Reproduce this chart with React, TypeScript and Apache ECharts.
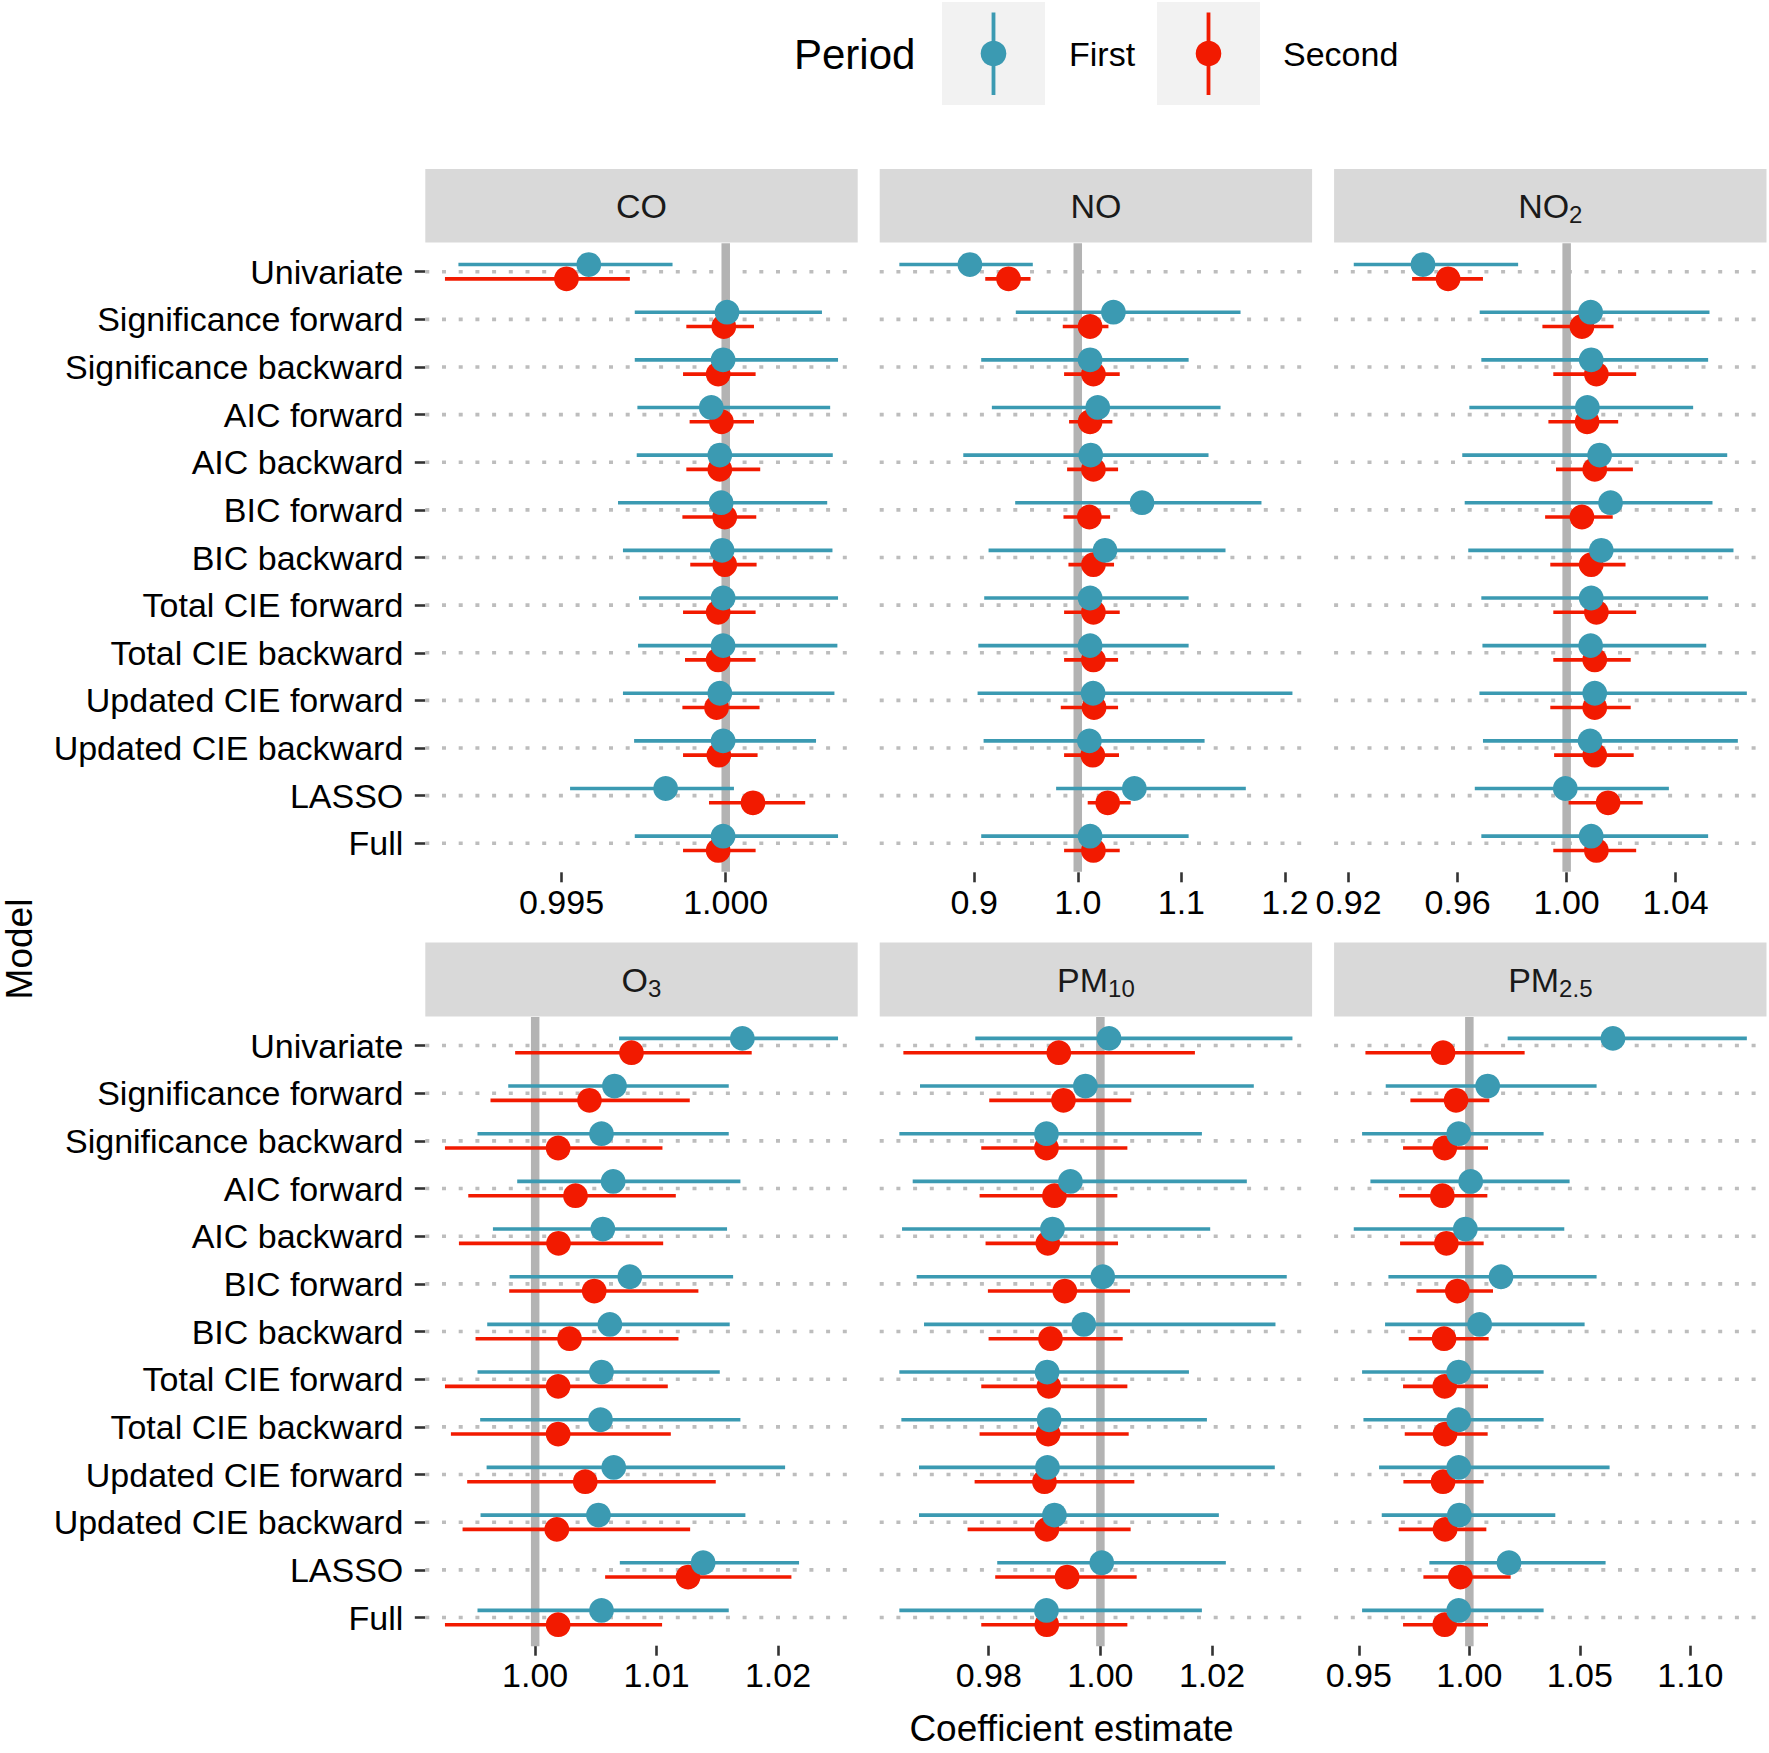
import React, { useEffect, useRef } from "react";
import * as echarts from "echarts";

// ---------------- data ----------------
const models = [
  "Univariate",
  "Significance forward",
  "Significance backward",
  "AIC forward",
  "AIC backward",
  "BIC forward",
  "BIC backward",
  "Total CIE forward",
  "Total CIE backward",
  "Updated CIE forward",
  "Updated CIE backward",
  "LASSO",
  "Full",
];

const periods = ["First", "Second"];

// each row: [lower, estimate, upper]
const coFirst = [
  [0.99186, 0.99583, 0.99838], [0.99723, 1.00004, 1.00293], [0.99723, 0.99992, 1.00342],
  [0.99731, 0.99956, 1.00318], [0.99729, 0.99982, 1.00326], [0.99672, 0.99986, 1.00309],
  [0.99687, 0.99989, 1.00325], [0.99736, 0.99992, 1.00342], [0.99733, 0.99992, 1.0034],
  [0.99687, 0.99982, 1.00331], [0.99721, 0.99992, 1.00275], [0.99526, 0.99817, 1.00025],
  [0.99723, 0.99992, 1.00342],
];
const coSecond = [
  [0.99145, 0.99515, 0.99708], [0.9988, 0.99994, 1.00086], [0.9987, 0.99977, 1.00091],
  [0.9989, 0.99987, 1.00086], [0.9988, 0.99982, 1.00105], [0.99868, 0.99997, 1.00093],
  [0.99892, 0.99997, 1.00094], [0.9987, 0.99977, 1.00091], [0.99876, 0.99977, 1.00091],
  [0.99868, 0.99972, 1.00103], [0.9987, 0.99979, 1.00097], [0.99949, 1.00083, 1.00242],
  [0.9987, 0.99977, 1.00091],
];
const noFirst = [
  [0.8278, 0.8959, 0.9566], [0.9402, 1.0344, 1.1571], [0.9068, 1.0119, 1.107],
  [0.9171, 1.0193, 1.1378], [0.8895, 1.0125, 1.1262], [0.9396, 1.062, 1.1773],
  [0.9139, 1.0263, 1.1426], [0.9097, 1.0119, 1.107], [0.904, 1.0119, 1.107],
  [0.9033, 1.0148, 1.2072], [0.9091, 1.0112, 1.1224], [0.9791, 1.0546, 1.1622],
  [0.9068, 1.0119, 1.107],
];
const noSecond = [
  [0.9107, 0.9332, 0.9544], [0.9855, 1.0119, 1.0296], [0.9868, 1.0151, 1.0405],
  [0.9916, 1.0119, 1.0334], [0.9897, 1.0151, 1.0389], [0.9862, 1.0112, 1.0312],
  [0.991, 1.0151, 1.035], [0.9868, 1.0151, 1.0405], [0.9868, 1.0151, 1.0389],
  [0.9836, 1.0157, 1.0389], [0.9868, 1.0145, 1.0398], [1.0096, 1.0289, 1.0511],
  [0.9868, 1.0151, 1.0405],
];
const no2First = [
  [0.9219, 0.9473, 0.9822], [0.9681, 1.0088, 1.0524], [0.9687, 1.009, 1.0519],
  [0.9643, 1.0076, 1.0464], [0.9617, 1.0121, 1.0589], [0.9626, 1.0161, 1.0535],
  [0.9639, 1.0127, 1.0612], [0.9687, 1.009, 1.0519], [0.9691, 1.0088, 1.0512],
  [0.968, 1.0103, 1.0661], [0.9693, 1.0086, 1.0628], [0.9663, 0.9995, 1.0375],
  [0.9687, 1.009, 1.0519],
];
const no2Second = [
  [0.9433, 0.9565, 0.9693], [0.9911, 1.0056, 1.0172], [0.9951, 1.0109, 1.0255],
  [0.9933, 1.0075, 1.0189], [0.9961, 1.0103, 1.0243], [0.9921, 1.0056, 1.0169],
  [0.994, 1.009, 1.0216], [0.9951, 1.0109, 1.0255], [0.9951, 1.0103, 1.0235],
  [0.994, 1.0103, 1.0235], [0.9954, 1.0103, 1.0246], [1.0007, 1.0152, 1.0279],
  [0.9951, 1.0109, 1.0255],
];
const o3First = [
  [1.00691, 1.01706, 1.02494], [0.99778, 1.00653, 1.01594], [0.99525, 1.00546, 1.01594],
  [0.99852, 1.00642, 1.0169], [0.99652, 1.00557, 1.0158], [0.99789, 1.00779, 1.0163],
  [0.99605, 1.00615, 1.01602], [0.99525, 1.00546, 1.0152], [0.99547, 1.00538, 1.0169],
  [0.996, 1.00647, 1.02058], [0.9955, 1.00521, 1.01731], [1.00697, 1.01383, 1.02173],
  [0.99525, 1.00546, 1.01594],
];
const o3Second = [
  [0.99835, 1.00793, 1.01783], [0.99632, 1.00447, 1.01273], [0.99257, 1.00189, 1.01048],
  [0.99449, 1.00332, 1.01158], [0.99372, 1.00192, 1.01054], [0.99786, 1.00486, 1.01344],
  [0.99509, 1.00283, 1.0118], [0.99257, 1.00189, 1.01092], [0.99306, 1.00189, 1.01117],
  [0.9944, 1.00412, 1.01487], [0.99402, 1.00178, 1.01276], [1.00576, 1.01259, 1.0211],
  [0.99257, 1.00189, 1.01045],
];
const pm10First = [
  [0.97759, 1.00155, 1.0344], [0.96769, 0.99732, 1.02748], [0.96399, 0.99034, 1.01818],
  [0.96638, 0.99463, 1.02623], [0.96447, 0.99142, 1.01967], [0.96709, 1.00042, 1.03338],
  [0.96841, 0.99702, 1.03136], [0.96399, 0.99046, 1.01586], [0.96435, 0.99082, 1.01908],
  [0.96751, 0.99052, 1.03124], [0.96751, 0.99177, 1.02122], [0.98152, 1.00024, 1.02247],
  [0.96399, 0.99034, 1.01818],
];
const pm10Second = [
  [0.96471, 0.99255, 1.01693], [0.98009, 0.99338, 1.00554], [0.97866, 0.99034, 1.00483],
  [0.97836, 0.99177, 1.00304], [0.97943, 0.99058, 1.00316], [0.97985, 0.99362, 1.00531],
  [0.97997, 0.99106, 1.004], [0.97866, 0.99076, 1.00483], [0.97836, 0.99064, 1.00507],
  [0.97747, 0.98998, 1.00608], [0.97621, 0.9904, 1.00542], [0.98116, 0.99404, 1.0065],
  [0.97866, 0.9904, 1.00483],
];
const pm25First = [
  [1.01733, 1.06497, 1.12557], [0.96216, 1.00829, 1.05758], [0.95146, 0.99518, 1.03361],
  [0.95523, 1.0006, 1.04537], [0.94769, 0.99819, 1.04296], [0.96337, 1.01432, 1.05758],
  [0.96186, 1.00467, 1.05216], [0.95146, 0.99518, 1.03361], [0.95207, 0.99518, 1.03361],
  [0.95915, 0.99518, 1.06346], [0.96036, 0.99548, 1.03889], [0.98191, 1.01794, 1.06165],
  [0.95146, 0.99518, 1.03361],
];
const pm25Second = [
  [0.95297, 0.98809, 1.02502], [0.97332, 0.99397, 1.00904], [0.97, 0.98885, 1.00844],
  [0.9682, 0.98779, 1.00814], [0.96865, 0.9896, 1.00648], [0.97603, 0.99457, 1.0107],
  [0.97257, 0.98854, 1.00874], [0.97, 0.98885, 1.00844], [0.97076, 0.989, 1.00829],
  [0.97015, 0.98809, 1.00648], [0.96804, 0.989, 1.00769], [0.9792, 0.99593, 1.01869],
  [0.97, 0.98885, 1.00844],
];

// tick labels per panel
const coTicks = [0.995, 1.0];
const noTicks = [0.9, 1.0, 1.1, 1.2];
const no2Ticks = [0.92, 0.96, 1.0, 1.04];
const o3Ticks = [1.0, 1.01, 1.02];
const pm10Ticks = [0.98, 1.0, 1.02];
const pm25Ticks = [0.95, 1.0, 1.05, 1.1];

const referenceValue = 1;

const panels = [
  { title: "CO", first: coFirst, second: coSecond, ticks: coTicks, dec: 3 },
  { title: "NO", first: noFirst, second: noSecond, ticks: noTicks, dec: 1 },
  { title: "NO{s|2}", first: no2First, second: no2Second, ticks: no2Ticks, dec: 2 },
  { title: "O{s|3}", first: o3First, second: o3Second, ticks: o3Ticks, dec: 2 },
  { title: "PM{s|10}", first: pm10First, second: pm10Second, ticks: pm10Ticks, dec: 2 },
  { title: "PM{s|2.5}", first: pm25First, second: pm25Second, ticks: pm25Ticks, dec: 2 },
];

// ---------------- styling / layout ----------------
const FONT = "'Liberation Sans', Arial, Helvetica, sans-serif";
const TEAL = "#3B9AB2";
const RED = "#F21A00";
const STRIP = "#D9D9D9";

const L = {
  lefts: [425.3, 879.7, 1334.1],
  width: 432.4,
  rowTop: [247.9, 1021.7],
  rowHeight: [619.2, 619.7],
  xOffset: [5.2, 4.3],
  stripTop: [169, 942.5],
  stripHeight: [73.5, 74],
};

function buildOption() {
  const grid: any[] = [];
  const xAxis: any[] = [];
  const yAxis: any[] = [];
  const series: any[] = [];
  const graphic: any[] = [];

  panels.forEach((p, k) => {
    const row = Math.floor(k / 3);
    const col = k % 3;
    const left = L.lefts[col];
    grid.push({
      left,
      top: L.rowTop[row],
      width: L.width,
      height: L.rowHeight[row],
      containLabel: false,
      outerBoundsMode: "none",
    });

    const all = [...p.first, ...p.second];
    const lo = Math.min(...all.map((r) => r[0]));
    const hi = Math.max(...all.map((r) => r[2]));
    const pad = (hi - lo) * 0.05;

    xAxis.push({
      gridIndex: k,
      type: "value",
      min: lo - pad,
      max: hi + pad,
      offset: L.xOffset[row],
      axisLine: { show: false },
      splitLine: { show: false },
      axisTick: {
        show: true,
        length: 10,
        customValues: p.ticks,
        lineStyle: { color: "#333333", width: 2.6 },
      },
      axisLabel: {
        show: true,
        customValues: p.ticks,
        formatter: (v: number) => Number(v).toFixed(p.dec),
        fontSize: 34,
        fontFamily: FONT,
        color: "#000",
        margin: 12.5,
        hideOverlap: false,
      },
    });

    yAxis.push({
      gridIndex: k,
      type: "category",
      data: models,
      inverse: true,
      axisLine: { show: false },
      splitLine: { show: false },
      axisTick: {
        show: col === 0,
        alignWithLabel: true,
        interval: 0,
        length: 10.5,
        lineStyle: { color: "#333333", width: 2.6 },
      },
      axisLabel: {
        show: col === 0,
        interval: 0,
        fontSize: 34,
        fontFamily: FONT,
        color: "#000",
        margin: 22,
      },
    });

    // dotted horizontal guide lines at each model
    series.push({
      type: "custom",
      xAxisIndex: k,
      yAxisIndex: k,
      silent: true,
      z: 1,
      clip: false,
      data: models.map((m, i) => [referenceValue, i]),
      encode: { x: 0, y: 1 },
      renderItem: (params: any, api: any) => {
        const pt = api.coord([api.value(0), api.value(1)]);
        const cs = params.coordSys;
        return {
          type: "line",
          shape: { x1: cs.x, y1: pt[1], x2: cs.x + cs.width, y2: pt[1] },
          style: { stroke: "#BDBDBD", lineWidth: 3.6, lineDash: [4, 12.7], lineCap: "butt" },
        };
      },
    });

    // reference line at 1
    series.push({
      type: "custom",
      xAxisIndex: k,
      yAxisIndex: k,
      silent: true,
      z: 2,
      clip: false,
      data: [[referenceValue, 0]],
      encode: { x: 0, y: 1 },
      renderItem: (params: any, api: any) => {
        const band = api.size([0, 1])[1];
        const a = api.coord([api.value(0), 0]);
        const b = api.coord([api.value(0), models.length - 1]);
        return {
          type: "line",
          shape: { x1: a[0], y1: a[1] - 0.6 * band, x2: a[0], y2: b[1] + 0.6 * band },
          style: { stroke: "#B3B3B3", lineWidth: 8.5, lineCap: "butt" },
        };
      },
    });

    const groups = [
      { name: periods[1], rows: p.second, color: RED, sign: 1 },
      { name: periods[0], rows: p.first, color: TEAL, sign: -1 },
    ];

    groups.forEach((g, gi) => {
      series.push({
        type: "custom",
        name: g.name,
        xAxisIndex: k,
        yAxisIndex: k,
        silent: true,
        z: 3 + gi,
        clip: false,
        data: g.rows.map((r, i) => [r[0], r[2], r[1], i]),
        encode: { x: [0, 1, 2], y: 3 },
        renderItem: (params: any, api: any) => {
          const i = api.value(3);
          const band = api.size([0, 1])[1];
          const dy = g.sign * 0.15 * band;
          const a = api.coord([api.value(0), i]);
          const b = api.coord([api.value(1), i]);
          return {
            type: "line",
            shape: { x1: a[0], y1: a[1] + dy, x2: b[0], y2: b[1] + dy },
            style: { stroke: g.color, lineWidth: 3.6, lineCap: "butt" },
          };
        },
      });
    });

    groups.forEach((g, gi) => {
      series.push({
        type: "custom",
        name: g.name,
        xAxisIndex: k,
        yAxisIndex: k,
        silent: true,
        z: 5 + gi,
        clip: false,
        data: g.rows.map((r, i) => [r[1], i]),
        encode: { x: 0, y: 1 },
        renderItem: (params: any, api: any) => {
          const band = api.size([0, 1])[1];
          const dy = g.sign * 0.15 * band;
          const c = api.coord([api.value(0), api.value(1)]);
          return {
            type: "circle",
            shape: { cx: c[0], cy: c[1] + dy, r: 12.4 },
            style: { fill: g.color },
          };
        },
      });
    });

    // strip
    graphic.push({
      type: "rect",
      silent: true,
      z: 0,
      shape: { x: left, y: L.stripTop[row], width: L.width, height: L.stripHeight[row] },
      style: { fill: STRIP },
    });
    graphic.push({
      type: "text",
      silent: true,
      z: 1,
      x: left + L.width / 2,
      y: L.stripTop[row] + L.stripHeight[row] / 2,
      style: {
        text: p.title,
        fontSize: 34,
        fontFamily: FONT,
        fill: "#1A1A1A",
        align: "center",
        verticalAlign: "middle",
        textAlign: "center",
        textVerticalAlign: "middle",
        rich: {
          s: { fontSize: 24, fontFamily: FONT, fill: "#1A1A1A", padding: [17, 0, 0, 0] },
        },
      },
    });
  });

  // legend (manual, ggplot style)
  const legendKeys = [
    { name: periods[0], color: TEAL, boxX: 942, textX: 1069 },
    { name: periods[1], color: RED, boxX: 1157, textX: 1283 },
  ];
  graphic.push({
    type: "text",
    silent: true,
    x: 794,
    y: 54,
    style: {
      text: "Period",
      fontSize: 42,
      fontFamily: FONT,
      fill: "#000",
      align: "left",
      verticalAlign: "middle",
      textAlign: "left",
      textVerticalAlign: "middle",
    },
  });
  legendKeys.forEach((lk) => {
    graphic.push({
      type: "rect",
      silent: true,
      shape: { x: lk.boxX, y: 2, width: 103, height: 103 },
      style: { fill: "#F2F2F2" },
    });
    graphic.push({
      type: "line",
      silent: true,
      shape: { x1: lk.boxX + 51.5, y1: 12.5, x2: lk.boxX + 51.5, y2: 95 },
      style: { stroke: lk.color, lineWidth: 3.8 },
    });
    graphic.push({
      type: "circle",
      silent: true,
      shape: { cx: lk.boxX + 51.5, cy: 53.5, r: 12.8 },
      style: { fill: lk.color },
    });
    graphic.push({
      type: "text",
      silent: true,
      x: lk.textX,
      y: 54,
      style: {
        text: lk.name,
        fontSize: 34,
        fontFamily: FONT,
        fill: "#000",
        align: "left",
        verticalAlign: "middle",
        textAlign: "left",
        textVerticalAlign: "middle",
      },
    });
  });

  // axis titles
  graphic.push({
    type: "text",
    silent: true,
    x: 1071.5,
    y: 1728,
    style: {
      text: "Coefficient estimate",
      fontSize: 37,
      fontFamily: FONT,
      fill: "#000",
      align: "center",
      verticalAlign: "middle",
      textAlign: "center",
      textVerticalAlign: "middle",
    },
  });
  graphic.push({
    type: "text",
    silent: true,
    x: 19,
    y: 949,
    rotation: Math.PI / 2,
    style: {
      text: "Model",
      fontSize: 37,
      fontFamily: FONT,
      fill: "#000",
      align: "center",
      verticalAlign: "middle",
      textAlign: "center",
      textVerticalAlign: "middle",
    },
  });

  return {
    animation: false,
    backgroundColor: "#FFFFFF",
    textStyle: { fontFamily: FONT },
    grid,
    xAxis,
    yAxis,
    series,
    graphic,
  };
}

export default function App() {
  const ref = useRef<HTMLDivElement>(null);
  useEffect(() => {
    document.body.style.margin = "0";
    const chart = echarts.init(ref.current as HTMLDivElement, null, { renderer: "svg" });
    chart.setOption(buildOption() as any);
    return () => {
      chart.dispose();
    };
  }, []);
  return <div ref={ref} style={{ width: 1769, height: 1753 }} />;
}
